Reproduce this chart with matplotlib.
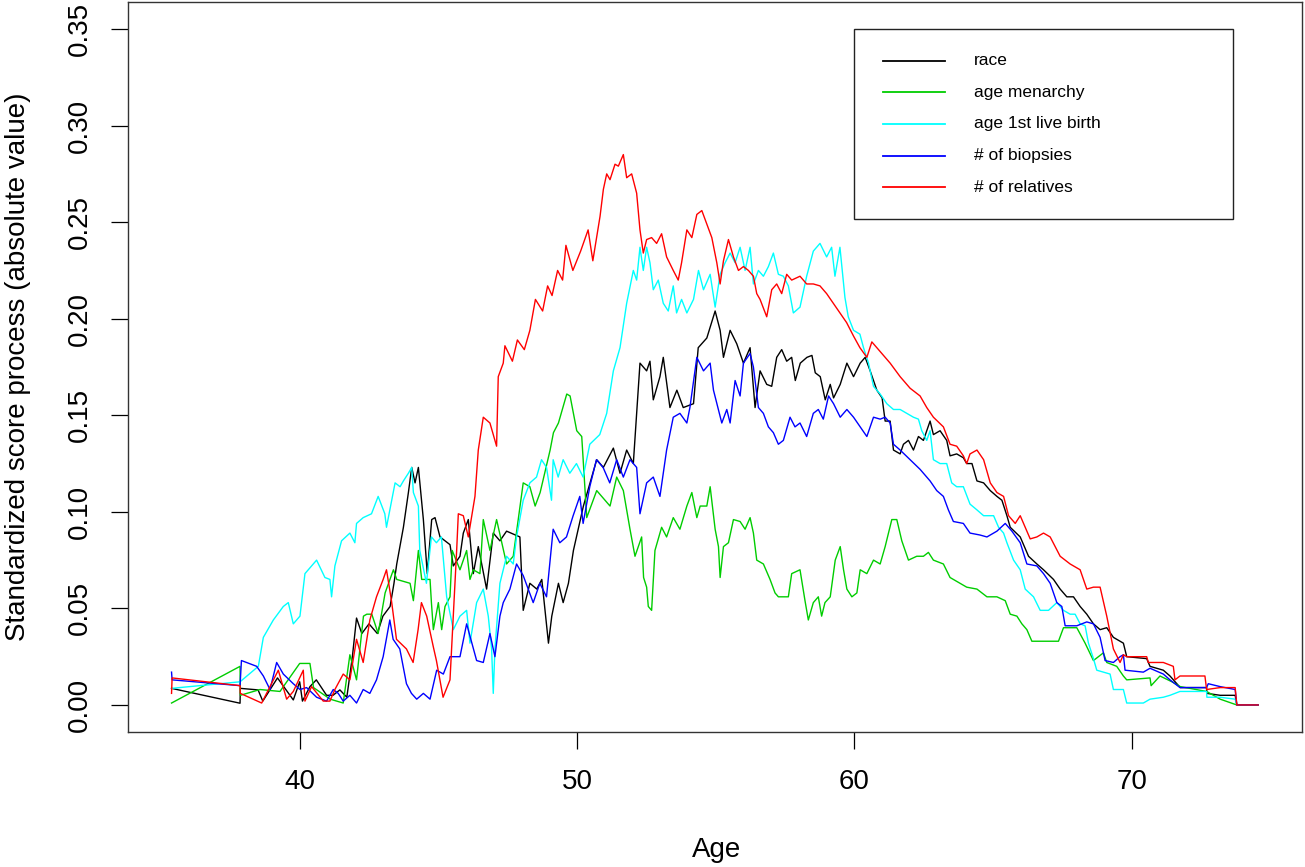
import matplotlib
matplotlib.use("Agg")
import matplotlib.pyplot as plt
from matplotlib.patches import Rectangle

plt.rcParams['font.family'] = ['Liberation Sans', 'DejaVu Sans']

# values (age, |standardized score|)
race_age = [35.38, 37.85, 37.86, 38.5, 38.67, 39.2, 39.77, 40.0, 40.1, 40.37, 40.6, 40.97, 41.2, 41.45, 41.7,
            41.9, 42.05, 42.24, 42.5, 42.8, 43.0, 43.26, 43.4, 43.5, 43.74, 43.92, 44.04, 44.16, 44.28, 44.46,
            44.6, 44.76, 44.88, 45.06, 45.24, 45.42, 45.54, 45.78, 45.9, 46.08, 46.26, 46.44, 46.74, 46.98,
            47.22, 47.46, 47.94, 48.06, 48.3, 48.55, 48.73, 48.97, 49.09, 49.33, 49.5, 49.69, 49.87, 50.23,
            50.47, 50.71, 50.95, 51.31, 51.55, 51.79, 52.03, 52.27, 52.51, 52.63, 52.75, 52.99, 53.11, 53.35,
            53.6, 53.83, 54.2, 54.37, 54.68, 54.98, 55.16, 55.28, 55.52, 55.76, 56.0, 56.24, 56.42, 56.6,
            56.84, 57.02, 57.2, 57.38, 57.56, 57.74, 57.87, 58.05, 58.29, 58.47, 58.59, 58.77, 58.95, 59.13,
            59.25, 59.49, 59.73, 59.97, 60.21, 60.39, 60.57, 60.81, 61.0, 61.11, 61.29, 61.41, 61.65, 61.77,
            61.95, 62.13, 62.31, 62.49, 62.73, 62.85, 63.09, 63.33, 63.45, 63.69, 63.93, 64.05, 64.24, 64.42,
            64.66, 64.9, 65.14, 65.32, 65.5, 65.62, 65.98, 66.28, 66.58, 66.82, 67.18, 67.42, 67.66, 67.9,
            68.14, 68.38, 68.62, 68.86, 69.1, 69.34, 69.7, 69.82, 70.54, 70.66, 71.14, 71.38, 71.75, 72.7,
            72.71, 73.19, 73.73, 73.79, 74.56]
race_val = [0.0086, 0.0009, 0.0086, 0.0078, 0.002, 0.014, 0.0026, 0.012, 0.002, 0.0095, 0.013, 0.005, 0.005,
            0.0078, 0.004, 0.025, 0.045, 0.037, 0.042, 0.037, 0.046, 0.051, 0.063, 0.073, 0.092, 0.11, 0.123,
            0.115, 0.123, 0.096, 0.068, 0.096, 0.097, 0.087, 0.085, 0.083, 0.072, 0.077, 0.089, 0.096, 0.068,
            0.082, 0.060, 0.089, 0.085, 0.090, 0.087, 0.049, 0.063, 0.060, 0.065, 0.032, 0.046, 0.063, 0.053,
            0.063, 0.080, 0.103, 0.115, 0.127, 0.123, 0.133, 0.120, 0.132, 0.125, 0.177, 0.173, 0.178, 0.158,
            0.170, 0.180, 0.154, 0.163, 0.154, 0.156, 0.185, 0.190, 0.204, 0.194, 0.180, 0.194, 0.187, 0.177,
            0.185, 0.154, 0.173, 0.166, 0.165, 0.180, 0.184, 0.178, 0.180, 0.168, 0.177, 0.180, 0.181, 0.172,
            0.170, 0.158, 0.166, 0.159, 0.166, 0.177, 0.170, 0.177, 0.180, 0.173, 0.163, 0.159, 0.147, 0.147,
            0.132, 0.130, 0.135, 0.137, 0.132, 0.139, 0.137, 0.147, 0.140, 0.142, 0.137, 0.129, 0.130, 0.128,
            0.125, 0.125, 0.116, 0.115, 0.111, 0.108, 0.106, 0.098, 0.092, 0.087, 0.077, 0.073, 0.070, 0.065,
            0.060, 0.056, 0.056, 0.051, 0.047, 0.042, 0.039, 0.040, 0.035, 0.032, 0.025, 0.024, 0.020, 0.018,
            0.015, 0.009, 0.009, 0.006, 0.005, 0.005, 0.0, 0.0]

menarche_age = [35.38, 37.85, 37.86, 38.57, 39.29, 40.0, 40.37, 40.5, 41.1, 41.57, 41.81, 42.05, 42.3, 42.42,
                42.6, 42.83, 43.08, 43.38, 43.5, 43.98, 44.1, 44.28, 44.4, 44.7, 44.75, 44.82, 45.0, 45.12,
                45.24, 45.42, 45.5, 45.78, 46.02, 46.14, 46.26, 46.5, 46.62, 46.86, 47.1, 47.46, 47.7, 48.06,
                48.3, 48.49, 48.67, 49.03, 49.15, 49.33, 49.63, 49.75, 49.99, 50.17, 50.35, 50.71, 51.19,
                51.43, 51.67, 51.91, 52.09, 52.33, 52.4, 52.51, 52.57, 52.69, 52.81, 53.05, 53.23, 53.47,
                53.71, 53.96, 54.14, 54.32, 54.44, 54.68, 54.8, 54.98, 55.1, 55.16, 55.28, 55.46, 55.64, 55.88,
                56.06, 56.24, 56.36, 56.48, 56.72, 56.96, 57.14, 57.26, 57.62, 57.74, 58.04, 58.22, 58.34,
                58.52, 58.7, 58.82, 58.94, 59.13, 59.31, 59.49, 59.61, 59.73, 59.91, 60.09, 60.21, 60.45,
                60.69, 60.93, 61.11, 61.35, 61.53, 61.71, 61.95, 62.25, 62.49, 62.67, 62.85, 63.21, 63.45,
                63.81, 64.05, 64.42, 64.78, 65.14, 65.44, 65.62, 65.86, 66.04, 66.22, 66.4, 67.36, 67.54,
                68.02, 68.32, 68.62, 68.98, 69.1, 69.46, 69.7, 69.82, 70.66, 70.7, 71.02, 71.45, 71.75, 72.7,
                73.19, 73.79, 74.56]
menarche_val = [0.001, 0.020, 0.005, 0.008, 0.007, 0.0215, 0.0215, 0.009, 0.003, 0.001, 0.026, 0.013, 0.046,
                0.047, 0.047, 0.037, 0.058, 0.070, 0.065, 0.063, 0.054, 0.080, 0.065, 0.065, 0.053, 0.039,
                0.053, 0.039, 0.051, 0.056, 0.080, 0.070, 0.080, 0.065, 0.070, 0.068, 0.096, 0.080, 0.096,
                0.073, 0.077, 0.115, 0.113, 0.103, 0.110, 0.132, 0.141, 0.146, 0.161, 0.160, 0.142, 0.139,
                0.097, 0.111, 0.103, 0.118, 0.111, 0.091, 0.077, 0.087, 0.066, 0.061, 0.051, 0.049, 0.080,
                0.092, 0.087, 0.097, 0.091, 0.103, 0.110, 0.097, 0.103, 0.103, 0.113, 0.091, 0.082, 0.066,
                0.082, 0.084, 0.096, 0.095, 0.091, 0.097, 0.089, 0.075, 0.073, 0.065, 0.058, 0.056, 0.056,
                0.068, 0.070, 0.054, 0.044, 0.053, 0.056, 0.046, 0.053, 0.056, 0.075, 0.082, 0.070, 0.060,
                0.056, 0.058, 0.070, 0.068, 0.075, 0.073, 0.082, 0.096, 0.096, 0.085, 0.075, 0.077, 0.077,
                0.079, 0.075, 0.073, 0.066, 0.063, 0.061, 0.060, 0.056, 0.056, 0.054, 0.047, 0.046, 0.042,
                0.039, 0.033, 0.033, 0.040, 0.040, 0.032, 0.023, 0.027, 0.022, 0.020, 0.015, 0.013, 0.014,
                0.010, 0.015, 0.012, 0.0095, 0.007, 0.003, 0.0, 0.0]

birth_age = [35.38, 37.85, 38.51, 38.69, 39.05, 39.41, 39.59, 39.77, 40.01, 40.19, 40.61, 40.91, 41.09, 41.15,
             41.27, 41.51, 41.81, 41.99, 42.05, 42.29, 42.59, 42.83, 43.07, 43.13, 43.25, 43.44, 43.62, 43.74,
             43.92, 44.04, 44.1, 44.28, 44.33, 44.57, 44.75, 44.93, 45.11, 45.3, 45.54, 45.78, 46.02, 46.14,
             46.38, 46.62, 46.8, 46.92, 46.98, 47.04, 47.22, 47.46, 47.7, 47.82, 48.06, 48.3, 48.54, 48.72,
             48.9, 49.08, 49.14, 49.32, 49.5, 49.74, 49.98, 50.22, 50.46, 50.82, 51.07, 51.31, 51.55, 51.79,
             52.03, 52.15, 52.27, 52.39, 52.51, 52.63, 52.75, 52.93, 53.11, 53.29, 53.47, 53.59, 53.77, 53.96,
             54.2, 54.38, 54.56, 54.8, 54.98, 55.16, 55.34, 55.52, 55.7, 55.88, 56.06, 56.24, 56.36, 56.54,
             56.72, 56.9, 57.08, 57.26, 57.44, 57.62, 57.8, 58.04, 58.28, 58.52, 58.76, 59.0, 59.18, 59.3,
             59.48, 59.66, 59.78, 59.97, 60.2, 60.33, 60.51, 60.69, 60.93, 61.17, 61.41, 61.65, 61.89, 62.13,
             62.31, 62.43, 62.61, 62.73, 62.85, 63.09, 63.33, 63.51, 63.69, 63.93, 64.17, 64.42, 64.66, 65.02,
             65.2, 65.38, 65.5, 65.74, 65.98, 66.16, 66.46, 66.7, 67.0, 67.3, 67.54, 67.78, 67.96, 68.14,
             68.32, 68.44, 68.62, 68.74, 69.22, 69.34, 69.7, 69.82, 70.42, 70.66, 71.14, 71.38, 71.74, 72.7,
             72.71, 73.19, 73.73, 73.79, 74.56]
birth_val = [0.0086, 0.012, 0.020, 0.035, 0.044, 0.051, 0.053, 0.042, 0.046, 0.068, 0.075, 0.066, 0.065, 0.056,
             0.072, 0.085, 0.089, 0.084, 0.094, 0.097, 0.099, 0.108, 0.099, 0.092, 0.101, 0.115, 0.113, 0.116,
             0.120, 0.123, 0.110, 0.103, 0.080, 0.063, 0.087, 0.084, 0.087, 0.056, 0.039, 0.046, 0.049, 0.032,
             0.053, 0.060, 0.046, 0.029, 0.006, 0.029, 0.063, 0.077, 0.073, 0.087, 0.106, 0.115, 0.118, 0.127,
             0.123, 0.106, 0.127, 0.118, 0.127, 0.120, 0.125, 0.118, 0.135, 0.140, 0.151, 0.173, 0.185, 0.208,
             0.225, 0.220, 0.237, 0.225, 0.237, 0.229, 0.215, 0.220, 0.208, 0.204, 0.217, 0.203, 0.210, 0.203,
             0.210, 0.225, 0.215, 0.223, 0.206, 0.223, 0.229, 0.234, 0.229, 0.237, 0.225, 0.237, 0.218, 0.225,
             0.222, 0.227, 0.234, 0.223, 0.222, 0.217, 0.203, 0.206, 0.222, 0.235, 0.239, 0.232, 0.237, 0.222,
             0.237, 0.211, 0.201, 0.194, 0.192, 0.185, 0.177, 0.165, 0.161, 0.156, 0.153, 0.153, 0.151, 0.149,
             0.148, 0.142, 0.137, 0.142, 0.127, 0.125, 0.125, 0.115, 0.113, 0.113, 0.104, 0.101, 0.098, 0.098,
             0.092, 0.089, 0.084, 0.075, 0.070, 0.060, 0.056, 0.049, 0.049, 0.053, 0.049, 0.047, 0.047, 0.042,
             0.041, 0.032, 0.024, 0.018, 0.016, 0.008, 0.008, 0.001, 0.001, 0.003, 0.004, 0.005, 0.007, 0.007,
             0.004, 0.004, 0.003, 0.0, 0.0]

biopsy_age = [35.38, 35.4, 37.85, 37.9, 38.45, 38.69, 38.93, 39.17, 39.41, 39.77, 40.01, 40.25, 40.61, 40.97,
              41.21, 41.39, 41.57, 41.81, 42.05, 42.29, 42.53, 42.77, 43.01, 43.25, 43.37, 43.61, 43.85, 44.03,
              44.22, 44.46, 44.7, 44.94, 45.18, 45.42, 45.78, 46.02, 46.38, 46.62, 46.86, 47.04, 47.22, 47.34,
              47.58, 47.82, 48.06, 48.42, 48.66, 48.9, 49.14, 49.38, 49.62, 49.86, 50.1, 50.22, 50.46, 50.7,
              50.94, 51.18, 51.43, 51.67, 51.91, 52.15, 52.27, 52.51, 52.75, 52.99, 53.23, 53.47, 53.71, 53.96,
              54.07, 54.32, 54.56, 54.8, 54.92, 55.22, 55.4, 55.52, 55.7, 55.88, 56.0, 56.24, 56.36, 56.54,
              56.72, 56.9, 57.08, 57.26, 57.44, 57.68, 57.86, 58.04, 58.28, 58.52, 58.7, 58.88, 59.07, 59.25,
              59.49, 59.73, 59.97, 60.21, 60.45, 60.69, 60.93, 61.11, 61.29, 61.41, 61.65, 62.01, 62.37, 62.73,
              62.97, 63.21, 63.39, 63.57, 63.93, 64.17, 64.53, 64.78, 65.14, 65.44, 65.68, 65.98, 66.22, 66.58,
              66.82, 67.06, 67.3, 67.48, 67.6, 68.02, 68.38, 68.62, 68.86, 69.04, 69.34, 69.58, 69.7, 69.76,
              70.42, 70.66, 71.14, 71.38, 71.74, 72.7, 72.76, 73.19, 73.73, 73.79, 74.56]
biopsy_val = [0.017, 0.013, 0.010, 0.023, 0.020, 0.015, 0.008, 0.022, 0.016, 0.011, 0.008, 0.009, 0.004, 0.002,
              0.008, 0.006, 0.002, 0.005, 0.001, 0.008, 0.006, 0.013, 0.025, 0.044, 0.034, 0.029, 0.011, 0.006,
              0.003, 0.006, 0.003, 0.018, 0.016, 0.025, 0.025, 0.042, 0.023, 0.022, 0.037, 0.025, 0.046, 0.053,
              0.060, 0.073, 0.067, 0.053, 0.063, 0.056, 0.091, 0.084, 0.087, 0.098, 0.108, 0.094, 0.113, 0.127,
              0.123, 0.115, 0.127, 0.118, 0.127, 0.123, 0.099, 0.115, 0.118, 0.108, 0.132, 0.149, 0.151, 0.146,
              0.154, 0.180, 0.173, 0.177, 0.163, 0.146, 0.153, 0.146, 0.168, 0.160, 0.177, 0.182, 0.175, 0.154,
              0.151, 0.144, 0.141, 0.135, 0.137, 0.149, 0.144, 0.146, 0.139, 0.151, 0.153, 0.148, 0.160, 0.156,
              0.149, 0.153, 0.149, 0.144, 0.139, 0.149, 0.148, 0.149, 0.146, 0.135, 0.132, 0.127, 0.122, 0.116,
              0.111, 0.108, 0.101, 0.095, 0.094, 0.089, 0.088, 0.087, 0.090, 0.094, 0.090, 0.084, 0.073, 0.072,
              0.068, 0.063, 0.053, 0.051, 0.041, 0.041, 0.043, 0.042, 0.035, 0.023, 0.022, 0.025, 0.026, 0.018,
              0.017, 0.019, 0.016, 0.013, 0.009, 0.009, 0.011, 0.0095, 0.008, 0.0, 0.0]

relatives_age = [35.38, 35.4, 37.85, 37.86, 38.63, 39.23, 39.53, 39.77, 40.13, 40.19, 40.43, 40.85, 41.09, 41.27,
                 41.57, 41.81, 42.05, 42.29, 42.53, 42.77, 43.01, 43.13, 43.31, 43.49, 43.85, 44.09, 44.27,
                 44.39, 44.58, 44.82, 44.93, 45.17, 45.42, 45.66, 45.72, 45.9, 46.08, 46.32, 46.44, 46.62,
                 46.86, 47.1, 47.16, 47.34, 47.4, 47.67, 47.85, 48.1, 48.3, 48.5, 48.76, 48.94, 49.1, 49.3,
                 49.48, 49.6, 49.85, 50.13, 50.4, 50.57, 50.83, 50.95, 51.07, 51.19, 51.37, 51.49, 51.67, 51.79,
                 51.97, 52.15, 52.27, 52.39, 52.51, 52.69, 52.87, 53.05, 53.23, 53.47, 53.65, 53.77, 53.96,
                 54.14, 54.32, 54.5, 54.68, 54.86, 55.04, 55.16, 55.28, 55.46, 55.64, 55.82, 56.0, 56.18, 56.36,
                 56.48, 56.6, 56.84, 57.02, 57.2, 57.38, 57.56, 57.74, 58.04, 58.28, 58.52, 58.76, 59.0, 59.24,
                 59.48, 59.72, 59.97, 60.2, 60.45, 60.63, 60.93, 61.29, 61.65, 62.01, 62.37, 62.61, 62.85,
                 63.21, 63.45, 63.69, 63.93, 64.05, 64.17, 64.42, 64.66, 64.9, 65.14, 65.38, 65.56, 65.8, 65.98,
                 66.16, 66.34, 66.58, 66.82, 67.06, 67.42, 67.78, 68.14, 68.38, 68.62, 68.86, 69.1, 69.34, 69.58,
                 69.7, 69.82, 70.54, 70.6, 71.14, 71.5, 71.56, 71.74, 72.64, 72.7, 73.19, 73.73, 73.79, 74.56]
relatives_val = [0.006, 0.014, 0.010, 0.006, 0.001, 0.018, 0.003, 0.007, 0.018, 0.002, 0.0095, 0.002, 0.002,
                 0.008, 0.016, 0.013, 0.034, 0.022, 0.044, 0.056, 0.065, 0.070, 0.054, 0.034, 0.029, 0.022,
                 0.039, 0.053, 0.046, 0.030, 0.023, 0.004, 0.013, 0.080, 0.099, 0.098, 0.087, 0.108, 0.132,
                 0.149, 0.146, 0.134, 0.170, 0.177, 0.186, 0.178, 0.189, 0.184, 0.194, 0.210, 0.204, 0.217,
                 0.212, 0.225, 0.220, 0.238, 0.225, 0.235, 0.246, 0.230, 0.253, 0.267, 0.275, 0.272, 0.280,
                 0.279, 0.285, 0.273, 0.275, 0.265, 0.246, 0.234, 0.241, 0.242, 0.239, 0.244, 0.232, 0.225,
                 0.220, 0.229, 0.246, 0.242, 0.254, 0.256, 0.249, 0.242, 0.229, 0.218, 0.230, 0.241, 0.232,
                 0.225, 0.227, 0.225, 0.222, 0.213, 0.210, 0.201, 0.215, 0.218, 0.213, 0.223, 0.220, 0.222,
                 0.218, 0.218, 0.217, 0.213, 0.208, 0.203, 0.198, 0.191, 0.185, 0.180, 0.188, 0.183, 0.177,
                 0.170, 0.164, 0.160, 0.154, 0.149, 0.144, 0.135, 0.134, 0.129, 0.125, 0.130, 0.132, 0.127,
                 0.115, 0.110, 0.108, 0.098, 0.094, 0.098, 0.092, 0.086, 0.087, 0.089, 0.087, 0.077, 0.073,
                 0.070, 0.060, 0.061, 0.061, 0.046, 0.029, 0.022, 0.026, 0.025, 0.025, 0.022, 0.022, 0.020,
                 0.013, 0.015, 0.015, 0.008, 0.009, 0.009, 0.0, 0.0]

series_labels = ["race", "age menarchy", "age 1st live birth", "# of biopsies", "# of relatives"]
series_colors = ["black", "#00CD00", "cyan", "blue", "red"]
x_ticks = [40, 50, 60, 70]
y_ticks = [0.00, 0.05, 0.10, 0.15, 0.20, 0.25, 0.30, 0.35]

series = [(race_age, race_val), (menarche_age, menarche_val), (birth_age, birth_val),
          (biopsy_age, biopsy_val), (relatives_age, relatives_val)]

fig = plt.figure(figsize=(13.05, 8.67), dpi=100)
ax = fig.add_axes([128 / 1305, 1 - 732 / 867, 1174 / 1305, 730 / 867])

for (xs, ys), col in zip(series, series_colors):
    ax.plot(xs, ys, color=col, lw=1.0)

ax.set_xlim(33.81, 76.14)
ax.set_ylim(-0.014, 0.364)
ax.set_xticks(x_ticks)
ax.set_yticks(y_ticks)
ax.set_xticklabels([str(t) for t in x_ticks])
ax.set_yticklabels(["%.2f" % t for t in y_ticks], rotation=90, va='center')
ax.tick_params(axis='both', direction='out', length=12.5, width=0.9, labelsize=20, colors='black')
ax.tick_params(axis='x', pad=14)
ax.tick_params(axis='y', pad=13)
for sp in ax.spines.values():
    sp.set_linewidth(1.0)
    sp.set_color('#333333')

fig.text(717 / 1305, 1 - 850 / 867, "Age", ha='center', va='center', fontsize=20)
fig.text(18 / 1305, 1 - 367 / 867, "Standardized score process (absolute value)",
         ha='center', va='center', rotation=90, fontsize=20)

# legend box drawn by hand so that its padding matches the original
ax.add_patch(Rectangle((0.6184, 0.7027), 0.3228, 0.2603, transform=ax.transAxes,
                       fill=False, edgecolor='#222222', lw=1.0, zorder=5))
row_y = [0.9196, 0.8763, 0.8329, 0.7895, 0.7462]
for yy, lab, col in zip(row_y, series_labels, series_colors):
    ax.plot([0.6431, 0.6959], [yy, yy], color=col, lw=1.3, transform=ax.transAxes, zorder=5)
    ax.text(0.7206, yy, lab, transform=ax.transAxes, va='center', ha='left', fontsize=12.5, zorder=5)

fig.savefig("out.png", dpi=100)
